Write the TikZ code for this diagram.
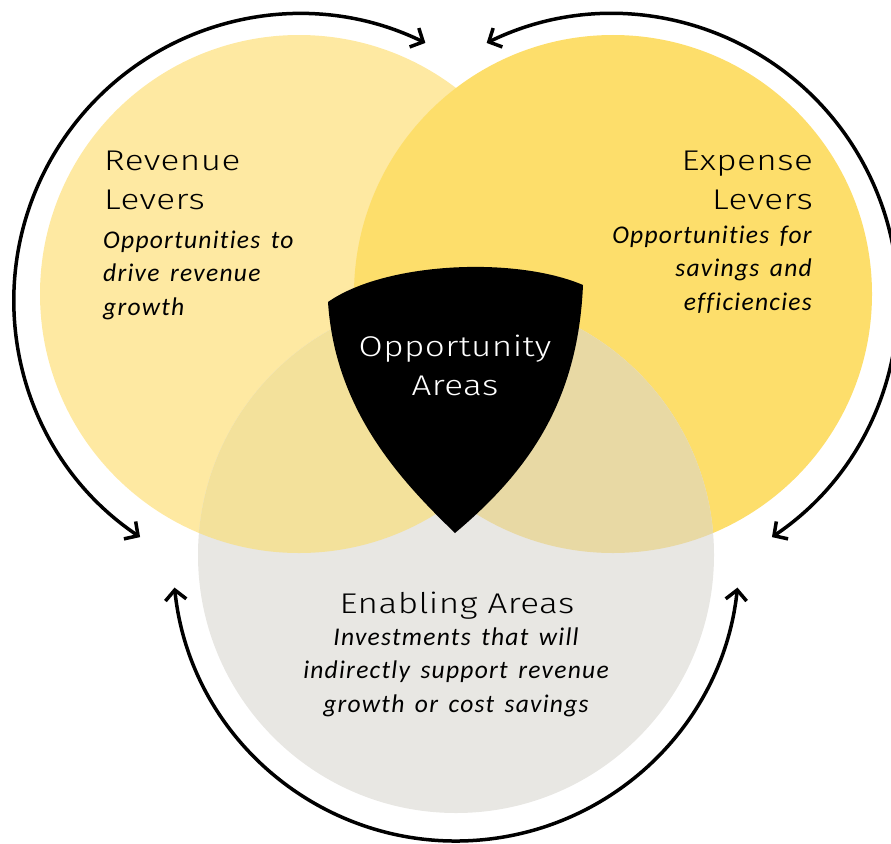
\documentclass[tikz,border=0pt]{standalone}
\usepackage{fontspec}
\setmainfont{Carlito}[LetterSpace=5, WordSpace=1.5, Ligatures=NoCommon]
\newfontfamily\headfont{Fira Sans Light}[FakeStretch=1.23, LetterSpace=1.5]
\usetikzlibrary{arrows.meta}

\definecolor{revenueYellow}{HTML}{FEE9A2}
\definecolor{expenseYellow}{HTML}{FDDE6B}
\definecolor{enablingGray}{HTML}{E8E7E3}
\definecolor{revenueOverlap}{HTML}{F3E19B}
\definecolor{expenseOverlap}{HTML}{E8D9A4}

\tikzset{
	heading/.style={font=\headfont\fontsize{28.5}{39}\selectfont, inner sep=0pt},
	blurb/.style={font=\itshape\fontsize{25.5}{33.5}\selectfont, inner sep=0pt},
	cycle/.style={line width=3.5pt, {Straight Barb[length=10pt,width=21pt]}-{Straight Barb[length=10pt,width=21pt]}}
}

\begin{document}
\begin{tikzpicture}[x=1pt, y=-1pt]
\useasboundingbox (0,0) rectangle (891,843);

% circle centres
\coordinate (rev) at (299,294);
\coordinate (exp) at (613,294);
\coordinate (en) at (456,555);

% the three areas
\fill[revenueYellow] (rev) circle[radius=259];
\fill[expenseYellow] (exp) circle[radius=259];
\fill[enablingGray] (en) circle[radius=258];
\begin{scope}
	\clip (en) circle[radius=258];
	\fill[revenueOverlap] (rev) circle[radius=259];
	\fill[expenseOverlap] (exp) circle[radius=259];
\end{scope}

% shield in the middle
\fill[black] (328,302) .. controls (385,262) and (515,256) .. (583,285)
	.. controls (578,400) and (530,470) .. (455,533)
	.. controls (400,480) and (335,410) .. cycle;

% arrows round the outside
\coordinate (revArc) at ([shift={(-236:286)}]300,300);
\coordinate (expArc) at ([shift={(-116:286)}]612,300);
\coordinate (enArc) at ([shift={(174:283)}]456,558);
\draw[cycle] (revArc) arc[start angle=-236, end angle=-64, radius=286];
\draw[cycle] (expArc) arc[start angle=-116, end angle=56, radius=286];
\draw[cycle] (enArc) arc[start angle=174, end angle=6, radius=283];

% labels (base is the last line)
\node[heading, anchor=base west, align=left] (revTitle) at (104,209) {Revenue\\Levers};
\node[blurb, anchor=base west, align=left] (revText) at (103,315) {Opportunities to\\drive revenue\\growth};
\node[heading, anchor=base east, align=right] (expTitle) at (813,209) {Expense\\Levers};
\node[blurb, anchor=base east, align=right] (expText) at (812,310) {Opportunities for\\savings and\\efficiencies};
\node[heading, text=white, anchor=base, align=center] (oppTitle) at (455,395) {Opportunity\\Areas};
\node[heading, anchor=base] (enTitle) at (457,613) {Enabling Areas};
\node[blurb, anchor=base, align=center] (enText) at (456,712) {Investments that will\\indirectly support revenue\\growth or cost savings};
\end{tikzpicture}
\end{document}
